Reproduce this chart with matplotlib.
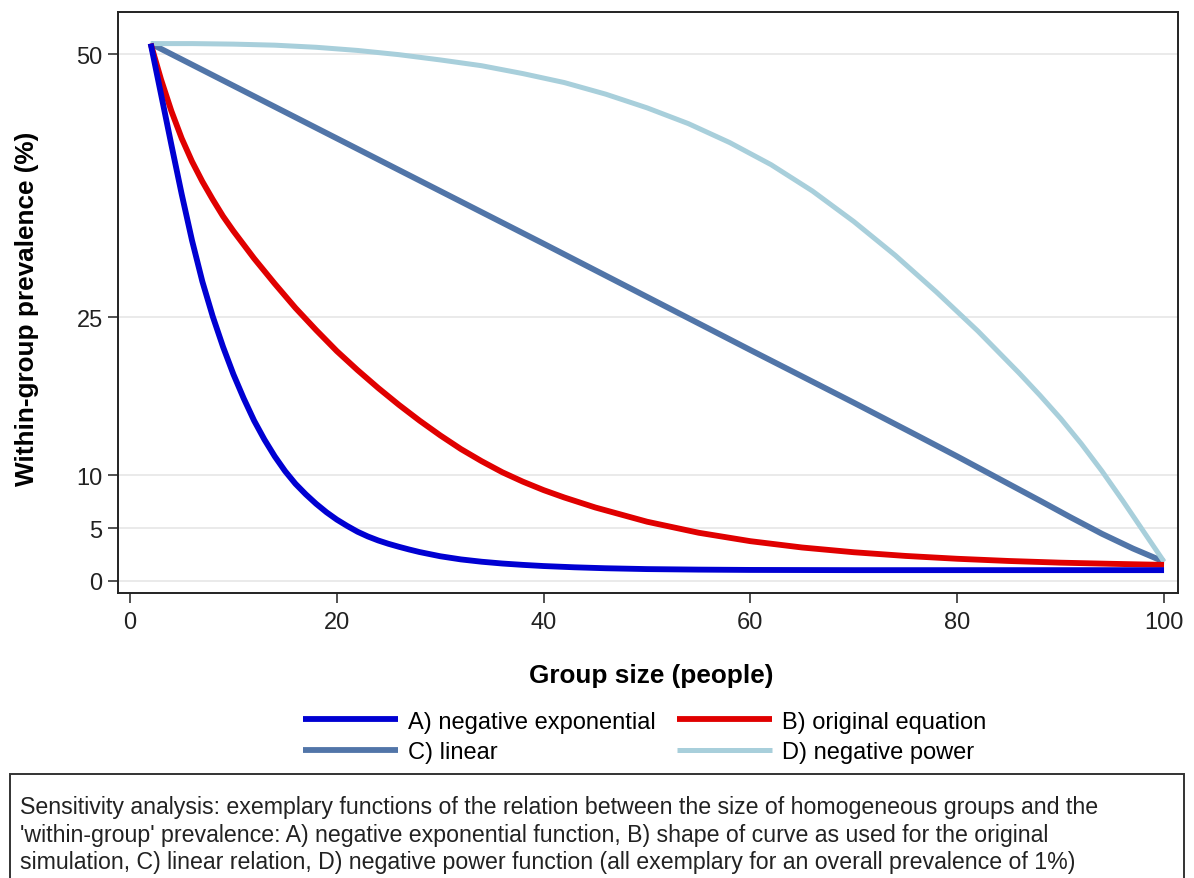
import matplotlib

matplotlib.use("Agg")
import matplotlib.pyplot as plt
from matplotlib.patches import Rectangle

plt.rcParams["font.family"] = ["Liberation Sans", "DejaVu Sans"]

# curves (group size -> within-group prevalence %)
exp_x = [2, 3, 4, 5, 6, 7, 8, 9, 10, 11, 12, 13, 14, 15, 16, 17, 18, 19, 20, 21, 22, 23, 24, 25, 26,
         27, 28, 30, 32, 34, 36, 38, 40, 43, 46, 50, 55, 60, 70, 80, 90, 100]
exp_y = [51, 46.2, 41.4, 36.7, 32.3, 28.4, 25.1, 22.2, 19.6, 17.3, 15.2, 13.4, 11.8, 10.4, 9.2, 8.2,
         7.3, 6.5, 5.8, 5.2, 4.65, 4.2, 3.82, 3.5, 3.22, 2.96, 2.72, 2.32, 2.02, 1.8, 1.63, 1.5, 1.39,
         1.27, 1.18, 1.1, 1.05, 1.02, 1.0, 1.0, 1.0, 1.0]

orig_x = [2, 3, 4, 5, 6, 7, 8, 9, 10, 12, 14, 16, 18, 20, 22, 24, 26, 28, 30, 32, 34, 36, 38, 40,
          42, 45, 50, 55, 60, 65, 70, 75, 80, 85, 90, 95, 100]
orig_y = [51, 47.6, 44.6, 42.0, 39.8, 37.9, 36.2, 34.6, 33.2, 30.6, 28.2, 25.9, 23.8, 21.8, 20.0,
          18.3, 16.7, 15.2, 13.8, 12.5, 11.35, 10.3, 9.4, 8.6, 7.9, 6.95, 5.6, 4.55, 3.75, 3.15,
          2.7, 2.35, 2.08, 1.87, 1.71, 1.6, 1.5]

lin_x = [2, 20, 40, 60, 70, 76, 80, 84, 88, 91, 94, 97, 100]
lin_y = [51, 42.0, 32.0, 21.9, 16.9, 13.85, 11.8, 9.7, 7.6, 6.0, 4.45, 3.05, 1.8]

pow_x = [2, 6, 10, 14, 18, 22, 26, 30, 34, 38, 42, 46, 50, 54, 58, 62, 66, 70, 74, 78, 82, 86, 88,
         90, 92, 94, 96, 98, 100]
pow_y = [51.0, 51.0, 50.95, 50.85, 50.65, 50.35, 49.95, 49.45, 48.9, 48.15, 47.3, 46.2, 44.9, 43.4,
         41.6, 39.5, 37.0, 34.1, 30.9, 27.4, 23.7, 19.7, 17.6, 15.4, 13.0, 10.4, 7.6, 4.7, 1.8]

x_ticks = [0, 20, 40, 60, 80, 100]
y_ticks = [0, 5, 10, 25, 50]

caption = ("Sensitivity analysis: exemplary functions of the relation between the size of homogeneous groups and the\n"
           "'within-group' prevalence: A) negative exponential function, B) shape of curve as used for the original\n"
           "simulation, C) linear relation, D) negative power function (all exemplary for an overall prevalence of 1%)")

W, H = 1194, 879
fig = plt.figure(figsize=(W / 100, H / 100), dpi=100)
ax = fig.add_axes([118 / W, 1 - 594 / H, (1178 - 118) / W, (594 - 13) / H])

series = [
    ("A) negative exponential", exp_x, exp_y, "#0000d2", 4.2),
    ("B) original equation", orig_x, orig_y, "#e00000", 4.2),
    ("C) linear", lin_x, lin_y, "#5175a8", 4.2),
    ("D) negative power", pow_x, pow_y, "#a8cfdb", 3.6),
]
order = [2, 3, 1, 0]  # drawing order: blue on top
for z, i in enumerate(order):
    label, xs, ys, color, lw = series[i]
    ax.plot(xs, ys, color=color, linewidth=lw, solid_capstyle="butt", solid_joinstyle="round",
            label=label, zorder=3 + z)

ax.set_xlim(-1.16, 101.35)
ax.set_ylim(-1.17, 54.0)
ax.set_xticks(x_ticks)
ax.set_yticks(y_ticks)
ax.tick_params(axis="both", direction="out", length=7, width=1.2, labelsize=17, color="#333333",
               labelcolor="#222222")
ax.tick_params(axis="x", pad=6)
ax.tick_params(axis="y", pad=4)
ax.grid(axis="y", color="#e6e6e6", linewidth=1.2, zorder=0)
ax.set_axisbelow(True)
for s in ax.spines.values():
    s.set_linewidth(1.4)
    s.set_color("#222222")

ax.set_xlabel("Group size (people)", fontsize=18.8, fontweight="bold")
ax.set_ylabel("Within-group prevalence (%)", fontsize=18.8, fontweight="bold")
ax.xaxis.set_label_coords((651 - 118) / 1060, (594 - 664) / 581)
ax.yaxis.set_label_coords((39 - 118) / 1060, 0.49)

handles, labels = ax.get_legend_handles_labels()
by_label = dict(zip(labels, handles))
leg_order = ["A) negative exponential", "C) linear", "B) original equation", "D) negative power"]
fig.legend([by_label[l] for l in leg_order], leg_order, ncol=2, frameon=False,
           loc="center", bbox_to_anchor=(645 / W, 1 - 738 / H), fontsize=17,
           handlelength=4.0, handletextpad=0.45, columnspacing=0.9, labelspacing=0.36)

fig.patches.append(Rectangle((10 / W, -0.02), (1184 - 10) / W, 0.02 + 1 - 775 / H,
                             transform=fig.transFigure, fill=False, edgecolor="#333333",
                             linewidth=1.4))
fig.text(20 / W, 1 - 796 / H, caption, ha="left", va="top", fontsize=16.7, linespacing=1.26,
         color="#222222")

fig.savefig("out.png", dpi=100)
